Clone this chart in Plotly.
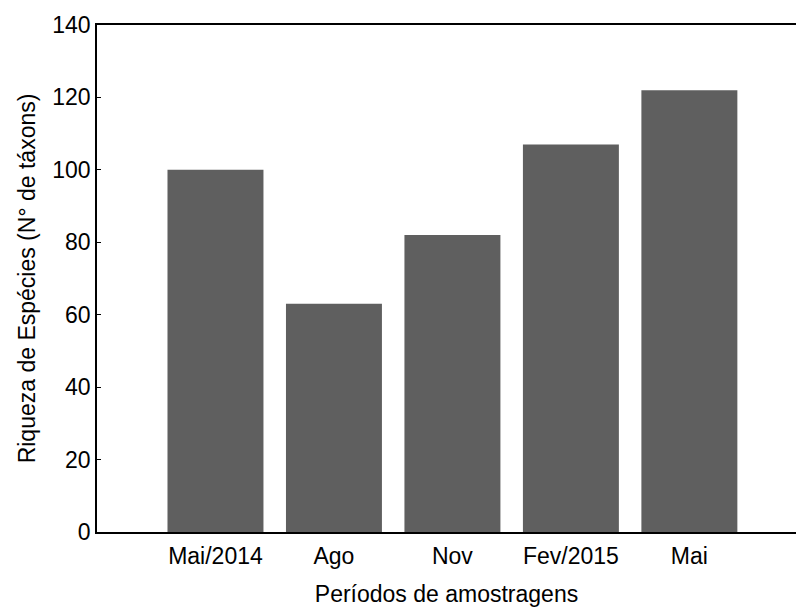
import plotly.graph_objects as go

# Sampling periods and species richness (number of taxa)
periodos = ["Mai/2014", "Ago", "Nov", "Fev/2015", "Mai"]
riqueza = [100, 63, 82, 107, 122]
y_ticks = [0, 20, 40, 60, 80, 100, 120, 140]

FONT = "Liberation Sans, Arial, sans-serif"

fig = go.Figure(
    go.Bar(
        x=list(range(len(periodos))),
        y=riqueza,
        width=0.81,
        marker=dict(color="#5f5f5f", line=dict(width=0)),
        hoverinfo="y",
    )
)

fig.update_layout(
    width=796,
    height=607,
    margin=dict(l=97, r=0, t=25, b=75),
    paper_bgcolor="white",
    plot_bgcolor="white",
    font=dict(family=FONT, size=23, color="black"),
    showlegend=False,
)

fig.update_xaxes(
    range=[-1.0, 4.9],
    tickmode="array",
    tickvals=list(range(len(periodos))),
    ticktext=periodos,
    ticks="",
    ticklabelstandoff=3,
    showgrid=False,
    zeroline=False,
    showline=True,
    linecolor="black",
    linewidth=1.5,
    mirror=True,
    automargin=False,
    title=dict(text="Períodos de amostragens", standoff=19, font=dict(size=23)),
)

fig.update_yaxes(
    range=[0, 140],
    tickmode="array",
    tickvals=y_ticks,
    ticks="inside",
    ticklen=4,
    tickcolor="black",
    showgrid=False,
    zeroline=False,
    showline=True,
    linecolor="black",
    linewidth=1.5,
    automargin=False,
    title=dict(text="Riqueza de Espécies (N° de táxons)", standoff=10, font=dict(size=23)),
)

fig.write_html("out.html")
